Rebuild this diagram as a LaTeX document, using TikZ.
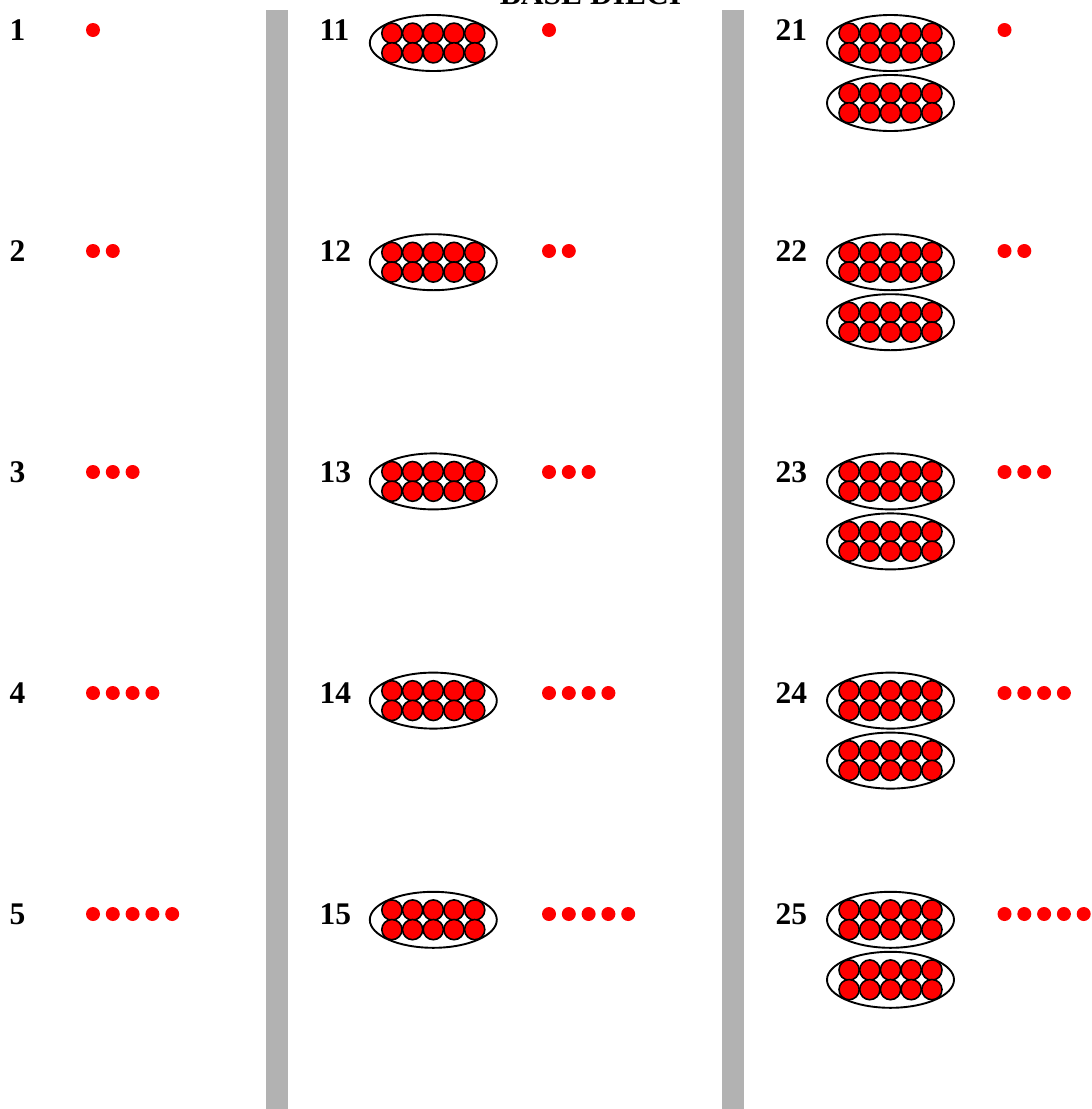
\documentclass[tikz,border=0pt]{standalone}
\usepackage{fontspec}
\setmainfont{Liberation Serif}
\tikzset{
  numlabel/.style={anchor=base west, inner sep=0pt, font=\fontsize{31.5}{36}\selectfont\bfseries},
  reddot/.style={fill=red, draw=none},
  bead/.style={fill=red, draw=black, line width=1.6pt},
  tenring/.style={draw=black, line width=1.9pt},
  divider/.style={fill=black!30, draw=none}
}
\newcommand{\tenbundle}[2]{%
  \draw[tenring] (#1,#2) ellipse [x radius=63.5, y radius=28];
  \foreach \i in {-2,...,2}{
    \filldraw[bead] ({#1+\i*20.7},{#2-9.8}) circle [radius=10.1];
    \filldraw[bead] ({#1+\i*20.7},{#2+9.8}) circle [radius=10.1];
  }%
}
\begin{document}
\begin{tikzpicture}[x=1pt,y=-1pt]
\useasboundingbox (0,0) rectangle (1092,1109);
% dividers
\fill[divider] (266,10) rectangle (288,1109);
\fill[divider] (722,10) rectangle (744,1109);
% title (cut off at the top edge, as in the reference)
\node[anchor=base, inner sep=0pt, font=\fontsize{31.5}{36}\selectfont\bfseries] (title) at (590.5,4) {BASE DIECI};
\foreach \k in {1,...,5}{
  \pgfmathsetmacro{\dy}{30+221*(\k-1)}
  \pgfmathsetmacro{\ey}{43+219.2*(\k-1)}
  \pgfmathtruncatemacro{\ma}{10+\k}
  \pgfmathtruncatemacro{\mb}{20+\k}
  % left column
  \node[numlabel] (u\k) at (9.5,\dy+10) {\k};
  \foreach \j in {1,...,\k}{
    \fill[reddot] ({93+(\j-1)*19.8},\dy) circle [radius=7];
  }
  % middle column
  \node[numlabel] (d\k) at (319.5,\dy+10) {\ma};
  \tenbundle{433.3}{\ey}
  \foreach \j in {1,...,\k}{
    \fill[reddot] ({549+(\j-1)*19.8},\dy) circle [radius=7];
  }
  % right column
  \node[numlabel] (t\k) at (775.5,\dy+10) {\mb};
  \tenbundle{890.5}{\ey}
  \tenbundle{890.5}{\ey+60}
  \foreach \j in {1,...,\k}{
    \fill[reddot] ({1004.5+(\j-1)*19.8},\dy) circle [radius=7];
  }
}
\end{tikzpicture}
\end{document}
